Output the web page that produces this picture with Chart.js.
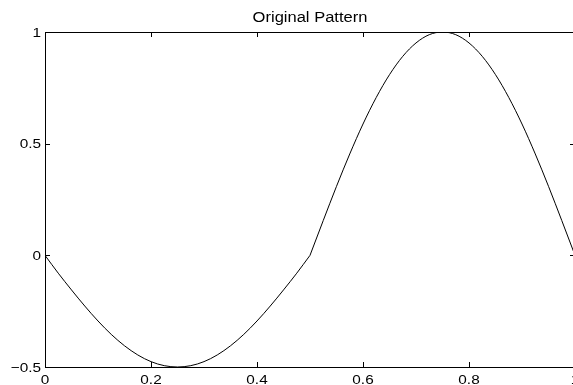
<!DOCTYPE html>
<html>
<head>
<meta charset="utf-8">
<script src="https://cdn.jsdelivr.net/npm/chart.js@4/dist/chart.umd.min.js"></script>
<style>
  html, body { margin: 0; padding: 0; background: #fff; overflow: hidden; }
  body { width: 573px; height: 385px; }
  canvas { display: block; }
</style>
</head>
<body>
<canvas id="c" width="575" height="385"></canvas>
<script>
const xValues = [0, 0.025, 0.05, 0.075, 0.1, 0.125, 0.15, 0.175, 0.2, 0.225, 0.25,
  0.275, 0.3, 0.325, 0.35, 0.375, 0.4, 0.425, 0.45, 0.475, 0.5,
  0.525, 0.55, 0.575, 0.6, 0.625, 0.65, 0.675, 0.7, 0.725, 0.75,
  0.775, 0.8, 0.825, 0.85, 0.875, 0.9, 0.925, 0.95, 0.975, 1];
const yValues = [0, -0.08, -0.155, -0.227, -0.294, -0.354, -0.405, -0.446, -0.476, -0.494, -0.5,
  -0.494, -0.476, -0.446, -0.405, -0.354, -0.294, -0.227, -0.155, -0.08, 0,
  0.156, 0.309, 0.454, 0.588, 0.707, 0.809, 0.891, 0.951, 0.988, 1,
  0.988, 0.951, 0.891, 0.809, 0.707, 0.588, 0.454, 0.309, 0.156, 0];
const xTicks = [0, 0.2, 0.4, 0.6, 0.8, 1];
const xTickLabels = ['0', '0.2', '0.4', '0.6', '0.8', '1'];
const yTicks = [-0.5, 0, 0.5, 1];
const yTickLabels = ['\u22120.5', '0', '0.5', '1'];
const titleText = 'Original Pattern';

const FONT = '"Liberation Sans", Arial, sans-serif';

// the curve has a corner at x = 0.5, so it is drawn as two smooth pieces
const pts = xValues.map((x, i) => ({ x: x, y: yValues[i] }));
const firstHalf = pts.filter(p => p.x <= 0.5);
const secondHalf = pts.filter(p => p.x >= 0.5);

// draws text a bit wider than normal, like the stretched original
function wideText(ctx, str, x, y, size, align) {
  const sx = 1.18;
  ctx.save();
  ctx.font = size + 'px ' + FONT;
  ctx.textBaseline = 'middle';
  const w = ctx.measureText(str).width * sx;
  let left = x;
  if (align === 'center') left = x - w / 2;
  else if (align === 'right') left = x - w;
  ctx.translate(left, y);
  ctx.scale(sx, 1);
  ctx.textAlign = 'left';
  ctx.fillText(str, 0, 0);
  ctx.restore();
}

const frame = {
  id: 'frame',
  afterDraw(chart) {
    const ctx = chart.ctx;
    const a = chart.chartArea;
    const sx = chart.scales.x, sy = chart.scales.y;
    ctx.save();
    ctx.strokeStyle = '#000';
    ctx.fillStyle = '#000';
    ctx.lineWidth = 1;
    ctx.beginPath();
    ctx.rect(Math.round(a.left) + 0.5, Math.round(a.top) + 0.5,
      Math.round(a.right - a.left) - 1, Math.round(a.bottom - a.top));
    ctx.stroke();

    const len = 5;
    ctx.beginPath();
    xTicks.forEach(v => {
      const px = Math.round(sx.getPixelForValue(v)) + 0.5;
      ctx.moveTo(px, a.bottom); ctx.lineTo(px, a.bottom - len);
      ctx.moveTo(px, a.top); ctx.lineTo(px, a.top + len);
    });
    yTicks.forEach(v => {
      const py = Math.round(sy.getPixelForValue(v)) + 0.5;
      ctx.moveTo(a.left, py); ctx.lineTo(a.left + len, py);
      ctx.moveTo(a.right, py); ctx.lineTo(a.right - len, py);
    });
    ctx.stroke();

    xTicks.forEach((v, i) => {
      wideText(ctx, xTickLabels[i], sx.getPixelForValue(v), a.bottom + 13, 13, 'center');
    });
    yTicks.forEach((v, i) => {
      wideText(ctx, yTickLabels[i], a.left - 4, sy.getPixelForValue(v) + 1, 13, 'right');
    });
    wideText(ctx, titleText, (sx.getPixelForValue(0) + sx.getPixelForValue(1)) / 2, 18, 14, 'center');
    ctx.restore();
  }
};

const lineStyle = {
  borderColor: '#000',
  borderWidth: 1,
  pointRadius: 0,
  cubicInterpolationMode: 'monotone',
  fill: false
};

new Chart(document.getElementById('c'), {
  type: 'line',
  data: {
    datasets: [
      Object.assign({ data: firstHalf }, lineStyle),
      Object.assign({ data: secondHalf }, lineStyle)
    ]
  },
  options: {
    responsive: false,
    animation: false,
    layout: { padding: { left: 45, top: 32, right: 0, bottom: 18 } },
    scales: {
      x: { type: 'linear', min: 0, max: 1, display: false },
      y: { type: 'linear', min: -0.5, max: 1, display: false }
    },
    plugins: {
      legend: { display: false },
      tooltip: { enabled: false }
    }
  },
  plugins: [frame]
});
</script>
</body>
</html>
